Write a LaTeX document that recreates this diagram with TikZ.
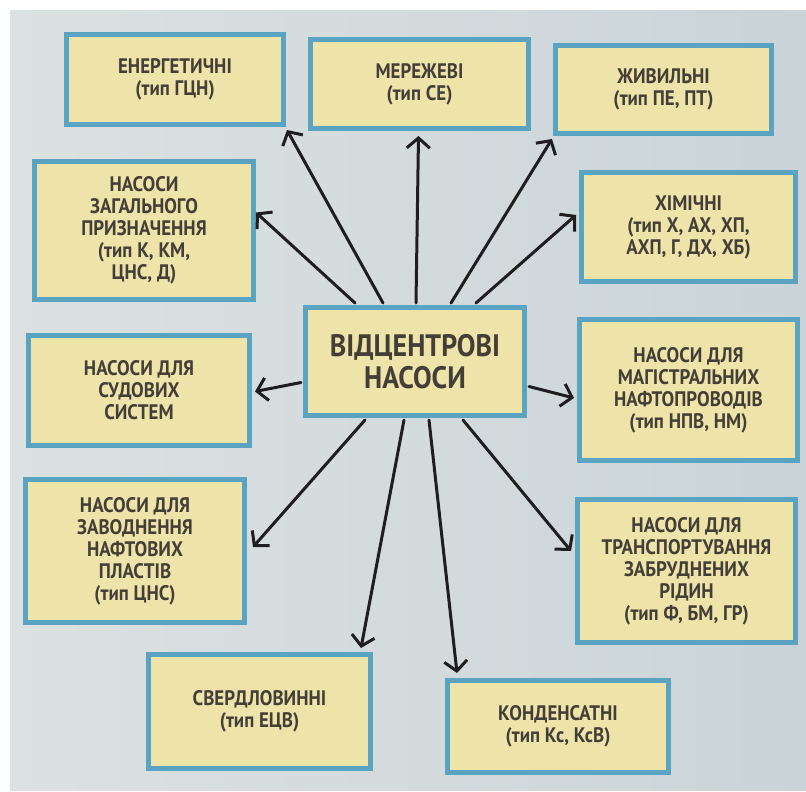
\documentclass[tikz,border=0pt]{standalone}
\usepackage{fontspec}
\setmainfont{PT Sans}[FakeStretch=0.9]
\usetikzlibrary{arrows.meta}
\definecolor{bgl}{HTML}{DCE1E1}
\definecolor{bgr}{HTML}{CAD4D8}
\definecolor{boxfill}{HTML}{EEE3A8}
\definecolor{boxedge}{HTML}{5AA4C2}
\definecolor{ink}{HTML}{433E38}
\definecolor{arrowink}{HTML}{1E1E20}
\begin{document}
\begin{tikzpicture}[x=1pt,y=-1pt,
  box/.style={draw=boxedge,line width=5pt,fill=boxfill,text=ink,align=center,inner sep=0pt,
    font=\bfseries\fontsize{21}{22}\selectfont},
  hub/.style={box,font=\bfseries\fontsize{31}{32}\selectfont},
  link/.style={draw=arrowink,line width=3pt,line cap=round,
    -{Straight Barb[length=10pt,width=23pt,line width=3pt]}}]
\useasboundingbox (0,0) rectangle (806,792);
\fill[white] (0,0) rectangle (806,792);
\shade[left color=bgl,right color=bgr] (10,11) rectangle (806,790);

% central box
\node[hub,minimum width=219pt,minimum height=108pt] (c) at (415,361.5) {ВІДЦЕНТРОВІ\\НАСОСИ};

% outer boxes
\node[box,minimum width=217pt,minimum height=90pt]  (en)   at (175,79.5)   {ЕНЕРГЕТИЧНІ\\(тип ГЦН)};
\node[box,minimum width=218pt,minimum height=89pt]  (mer)  at (419.5,84)   {МЕРЕЖЕВІ\\(тип СЕ)};
\node[box,minimum width=216pt,minimum height=88pt]  (zhy)  at (663.5,89.5) {ЖИВИЛЬНІ\\(тип ПЕ, ПТ)};
\node[box,minimum width=219pt,minimum height=138pt] (gen)  at (144,230.5)  {НАСОСИ\\ЗАГАЛЬНОГО\\ПРИЗНАЧЕННЯ\\(тип К, КМ,\\ЦНС, Д)};
\node[box,minimum width=214pt,minimum height=109pt] (khim) at (688.5,227)  {ХІМІЧНІ\\(тип Х, АХ, ХП,\\АХП, Г, ДХ, ХБ)};
\node[box,minimum width=221pt,minimum height=110pt] (sud)  at (139,390.5)  {НАСОСИ ДЛЯ\\СУДОВИХ\\СИСТЕМ};
\node[box,minimum width=218pt,minimum height=141pt] (mag)  at (688.5,390)  {НАСОСИ ДЛЯ\\МАГІСТРАЛЬНИХ\\НАФТОПРОВОДІВ\\(тип НПВ, НМ)};
\node[box,minimum width=219pt,minimum height=143pt] (zav)  at (135,551)    {НАСОСИ ДЛЯ\\ЗАВОДНЕННЯ\\НАФТОВИХ\\ПЛАСТІВ\\(тип ЦНС)};
\node[box,minimum width=218pt,minimum height=143pt] (tr)   at (686.5,571)  {НАСОСИ ДЛЯ\\ТРАНСПОРТУВАННЯ\\ЗАБРУДНЕНИХ\\РІДИН\\(тип Ф, БМ, ГР)};
\node[box,minimum width=222pt,minimum height=114pt] (sv)   at (259.5,711.5){СВЕРДЛОВИННІ\\(тип ЕЦВ)};
\node[box,minimum width=221pt,minimum height=92pt]  (kon)  at (558,726.5)  {КОНДЕНСАТНІ\\(тип Кс, КсВ)};

% connectors from the central box
\draw[link] ([xshift=-60pt,yshift=2pt]c.north) -- ([yshift=18pt]gen.east);
\draw[link] ([xshift=-32pt,yshift=2pt]c.north) -- ([xshift=1pt,yshift=-3pt]en.south east);
\draw[link] ([xshift=1pt,yshift=2pt]c.north)   -- ([xshift=-1pt,yshift=-5pt]mer.south);
\draw[link] ([xshift=36pt,yshift=2pt]c.north)  -- ([xshift=-1pt,yshift=-3pt]zhy.south west);
\draw[link] ([xshift=61pt,yshift=2pt]c.north)  -- ([xshift=-3pt,yshift=12pt]khim.west);
\draw[link] ([xshift=-2pt,yshift=-21pt]c.west) -- ([xshift=3pt,yshift=-1pt]sud.east);
\draw[link] ([xshift=2pt,yshift=-25pt]c.east)  -- ([xshift=-3pt,yshift=-8pt]mag.west);
\draw[link] ([xshift=-50pt,yshift=-2pt]c.south) -- ([xshift=6pt,yshift=4pt]zav.east);
\draw[link] ([xshift=-11pt,yshift=-2pt]c.south) -- ([xshift=-12pt,yshift=4pt]sv.north east);
\draw[link] ([xshift=14pt,yshift=-2pt]c.south)  -- ([xshift=12pt,yshift=5pt]kon.north west);
\draw[link] ([xshift=48pt,yshift=-2pt]c.south)  -- ([xshift=-4pt,yshift=20pt]tr.west);
\end{tikzpicture}
\end{document}
